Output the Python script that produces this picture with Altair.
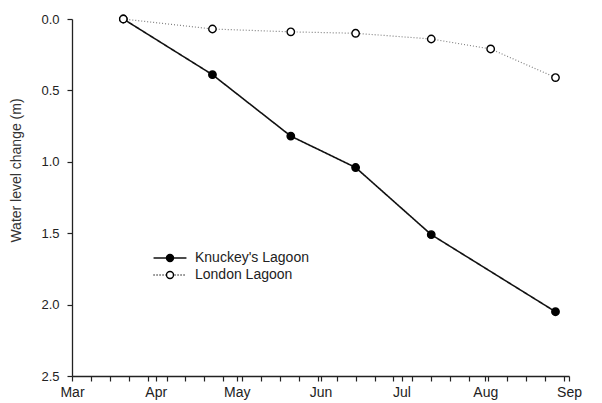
import altair as alt
import pandas as pd

# ---- data ----
series_names = ["Knuckey's Lagoon", "London Lagoon"]
knuckey_dates = ["2005-03-20", "2005-04-22", "2005-05-21", "2005-06-14", "2005-07-12", "2005-08-27"]
knuckey_vals = [0.0, 0.39, 0.82, 1.04, 1.51, 2.05]
london_dates = ["2005-03-20", "2005-04-22", "2005-05-21", "2005-06-14", "2005-07-12", "2005-08-03", "2005-08-27"]
london_vals = [0.0, 0.07, 0.09, 0.10, 0.14, 0.21, 0.41]
month_ticks = ["2005-03-01", "2005-04-01", "2005-05-01", "2005-06-01", "2005-07-01", "2005-08-01", "2005-09-01"]
y_ticks = [0.0, 0.5, 1.0, 1.5, 2.0, 2.5]

rows = []
for d, v in zip(knuckey_dates, knuckey_vals):
    rows.append({"date": d, "level": v, "series": series_names[0]})
for d, v in zip(london_dates, london_vals):
    rows.append({"date": d, "level": v, "series": series_names[1]})
df = pd.DataFrame(rows)
# separate copies so that hidden helper scales do not swallow the line legend
df["line_series"] = df["series"]
df["color_series"] = df["series"]
df["width_series"] = df["series"]


def ms(d):
    return int(pd.Timestamp(d).value // 10**6)


week_ticks = [ms(t) for t in pd.date_range(month_ticks[0], month_ticks[-1], freq="7D")]
tick_values = sorted(set(week_ticks) | {ms(m) for m in month_ticks})

FONT = "Liberation Sans"

x_enc = alt.X(
    "date:T",
    scale=alt.Scale(type="utc", domain=[ms(month_ticks[0]), ms(month_ticks[-1])], nice=False),
    axis=alt.Axis(
        values=tick_values,
        labelExpr="utcdate(datum.value) == 1 ? utcFormat(datum.value, '%b') : ''",
        labelOverlap=False,
        labelFlush=False,
        title=None,
        tickSize=5,
        labelPadding=4,
        labelFontSize=14,
    ),
)
y_enc = alt.Y(
    "level:Q",
    scale=alt.Scale(domain=[0, 2.5], reverse=True, nice=False, zero=False),
    axis=alt.Axis(
        values=y_ticks,
        format=".1f",
        title="Water level change  (m)",
        titleFontSize=14,
        titleFontWeight="normal",
        titlePadding=17,
        titleY=151,
        titleColor="#333333",
        tickSize=5,
        labelPadding=8,
        labelFontSize=13,
    ),
)

lines = alt.Chart(df).mark_line().encode(
    x=x_enc,
    y=y_enc,
    color=alt.Color("color_series:N", scale=alt.Scale(range=["#111111", "#808080"]), legend=None),
    strokeWidth=alt.StrokeWidth("width_series:N", scale=alt.Scale(range=[1.6, 1.2]), legend=None),
    strokeDash=alt.StrokeDash(
        "line_series:N",
        scale=alt.Scale(range=[[1, 0], [1, 2]]),
        legend=alt.Legend(
            title=None,
            orient="none",
            legendX=91,
            legendY=232,
            symbolType="M-4.7,0L4.7,0",
            symbolSize=49,
            symbolStrokeColor="#111111",
            symbolFillColor="transparent",
            symbolStrokeWidth=1.5,
            symbolOpacity=1,
            labelOpacity=0,
            labelFontSize=14,
            labelOffset=18,
            rowPadding=3,
            padding=0,
            offset=0,
        ),
    ),
)

points = alt.Chart(df).mark_point(filled=True, size=55, stroke="black", strokeWidth=1.4, opacity=1, shape="circle").encode(
    x=x_enc,
    y=y_enc,
    fill=alt.Fill(
        "series:N",
        scale=alt.Scale(domain=series_names, range=["black", "white"]),
        legend=alt.Legend(
            title=None,
            orient="none",
            legendX=91,
            legendY=232,
            symbolType="circle",
            symbolSize=49,
            symbolStrokeColor="black",
            symbolStrokeWidth=1.4,
            labelFontSize=14,
            labelFont=FONT,
            labelColor="#222222",
            labelOffset=18,
            rowPadding=3,
            padding=0,
            offset=0,
        ),
    ),
)

chart = (
    alt.layer(lines, points)
    .properties(
        width=497,
        height=357,
        autosize=alt.AutoSizeParams(type="none"),
        padding={"left": 64, "top": 11, "right": 25, "bottom": 27},
    )
    .configure_view(stroke=None)
    .configure_axis(
        grid=False,
        domainColor="#222222",
        domainWidth=1.3,
        tickColor="#222222",
        tickWidth=1.2,
        labelFont=FONT,
        titleFont=FONT,
        labelColor="#222222",
    )
    .configure_legend(labelFont=FONT)
)

chart.save("out.html", embed_options={"renderer": "svg", "actions": False})
